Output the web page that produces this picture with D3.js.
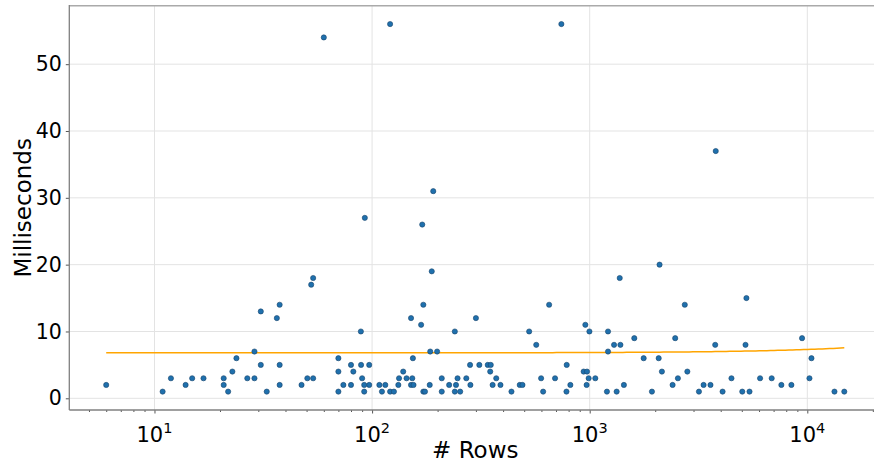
<!DOCTYPE html>
<html>
<head>
<meta charset="utf-8">
<script src="https://cdn.jsdelivr.net/npm/d3@7"></script>
<style>
  html, body { margin: 0; padding: 0; background: #fff; }
  svg { display: block; font-family: "DejaVu Sans", sans-serif; }
</style>
</head>
<body>
<svg id="chart" width="874" height="468"></svg>
<script>
// Query timings: number of rows returned vs. elapsed milliseconds
const rows = [
  6, 10.9, 11.9, 13.9, 14.9, 16.8, 20.8, 20.8, 21.8, 22.8,
  23.8, 26.7, 28.8, 28.8, 30.8, 30.8, 32.8, 36.5, 37.6, 37.6,
  37.6, 47.4, 50.4, 52.5, 53.6, 53.6, 60, 70, 70, 70,
  73.8, 80, 80, 82, 88.8, 89, 90, 92, 92, 92.6,
  97, 97, 108, 111, 115, 121, 126, 121, 132, 133,
  139, 144, 151, 151, 153, 155, 154, 168, 170, 172,
  172, 175, 184, 185, 188, 191, 199, 209, 209, 226,
  240, 240, 243, 247, 254, 271, 282, 283, 300, 311,
  340, 351, 349, 358, 372, 389, 437, 477, 491, 527,
  568, 598, 611, 651, 693, 741, 782, 784, 815, 938,
  955, 968, 972, 989, 997, 1061, 1200, 1214, 1214, 1294,
  1330, 1374, 1384, 1436, 1603, 1770, 1932, 2075, 2094, 2147,
  2404, 2471, 2543, 2735, 2810, 3177, 3337, 3590, 3774, 3795,
  4080, 4482, 5025, 5200, 5250, 5425, 6067, 6860, 7600, 8450,
  9460, 10230, 10450, 13330, 14790
];
const millis = [
  2, 1, 3, 2, 3, 3, 3, 2, 1, 4,
  6, 3, 3, 7, 5, 13, 1, 12, 14, 5,
  2, 2, 3, 17, 18, 3, 54, 6, 4, 1,
  2, 5, 2, 4, 10, 5, 3, 2, 1, 27,
  5, 2, 2, 1, 2, 1, 1, 56, 2, 3,
  4, 3, 12, 2, 3, 2, 6, 11, 26, 14,
  1, 1, 2, 7, 19, 31, 7, 3, 1, 2,
  10, 1, 2, 3, 1, 3, 5, 2, 12, 5,
  5, 5, 4, 2, 3, 2, 1, 2, 2, 10,
  8, 3, 1, 14, 3, 56, 1, 5, 2, 4,
  11, 2, 4, 3, 10, 3, 1, 10, 7, 8,
  1, 18, 8, 2, 9, 6, 1, 6, 20, 4,
  2, 9, 3, 14, 4, 1, 2, 2, 8, 37,
  1, 3, 1, 8, 15, 1, 3, 3, 2, 2,
  9, 3, 6, 1, 1
];

// Linear least-squares fit (ms = intercept + slope * rows)
const trendIntercept = 6.8;
const trendSlope = 0.000051;

const yTicks = [0, 10, 20, 30, 40, 50];
const xMajorExponents = [1, 2, 3, 4];

const points = rows.map((r, i) => ({ r, ms: millis[i] }));

const svg = d3.select("#chart");
const plotLeft = 69.3, plotTop = 5.7, plotBottom = 410, plotRight = 881.2;

// Log x domain padded by 5% of its span in log space, y padded likewise
const lx0 = Math.log10(d3.min(rows)), lx1 = Math.log10(d3.max(rows));
const padX = 0.05 * (lx1 - lx0);
const x = d3.scaleLog()
  .domain([Math.pow(10, lx0 - padX), Math.pow(10, lx1 + padX)])
  .range([plotLeft, plotRight]);

const y0 = d3.min(millis), y1 = d3.max(millis);
const padY = 0.05 * (y1 - y0);
const y = d3.scaleLinear()
  .domain([y0 - padY, y1 + padY])
  .range([plotBottom, plotTop]);

// Grid
const grid = svg.append("g").attr("class", "grid");
grid.selectAll("line.h").data(yTicks).join("line")
  .attr("x1", plotLeft).attr("x2", plotRight)
  .attr("y1", d => y(d)).attr("y2", d => y(d))
  .attr("stroke", "#e3e3e3").attr("stroke-width", 1);
grid.selectAll("line.v").data(xMajorExponents).join("line")
  .attr("x1", d => x(Math.pow(10, d))).attr("x2", d => x(Math.pow(10, d)))
  .attr("y1", plotTop).attr("y2", plotBottom)
  .attr("stroke", "#e3e3e3").attr("stroke-width", 1);

// Minor ticks on the log axis
const [dx0, dx1] = x.domain();
const minorTicks = [];
for (let e = Math.floor(Math.log10(dx0)); e <= Math.ceil(Math.log10(dx1)); e++) {
  for (let m = 2; m <= 9; m++) {
    const v = m * Math.pow(10, e);
    if (v >= dx0 && v <= dx1) minorTicks.push(v);
  }
}

const xMinorAxis = svg.append("g")
  .attr("transform", `translate(0,${plotBottom})`)
  .call(d3.axisBottom(x).tickValues(minorTicks).tickSize(2).tickFormat(""));
xMinorAxis.select(".domain").remove();
xMinorAxis.selectAll("line").attr("stroke", "#555");

const xAxis = svg.append("g")
  .attr("transform", `translate(0,${plotBottom})`)
  .call(d3.axisBottom(x).tickValues(xMajorExponents.map(e => Math.pow(10, e)))
    .tickSize(3.5).tickPadding(3.5).tickFormat(""));
xAxis.select(".domain").remove();
xAxis.selectAll("line").attr("stroke", "#555");

// Mathtext-style tick labels: 10 with superscript exponent
const xLabels = svg.append("g");
xMajorExponents.forEach(e => {
  const t = xLabels.append("text")
    .attr("x", x(Math.pow(10, e)))
    .attr("y", 442)
    .attr("text-anchor", "middle")
    .attr("font-size", 21)
    .attr("fill", "#000");
  t.append("tspan").text("10");
  t.append("tspan").attr("font-size", 14.5).attr("dy", -9).text(String(e));
});

const yAxis = svg.append("g")
  .attr("transform", `translate(${plotLeft},0)`)
  .call(d3.axisLeft(y).tickValues(yTicks).tickSize(3.5).tickPadding(4).tickFormat(d3.format("d")));
yAxis.select(".domain").remove();
yAxis.selectAll("line").attr("stroke", "#555");
yAxis.selectAll("text")
  .attr("font-size", 20.5)
  .attr("fill", "#000")
  .attr("font-family", "DejaVu Sans, sans-serif");

// Spines
svg.append("line").attr("x1", plotLeft).attr("x2", plotRight).attr("y1", plotTop).attr("y2", plotTop)
  .attr("stroke", "#aaa").attr("stroke-width", 1.6);
svg.append("line").attr("x1", plotRight).attr("x2", plotRight).attr("y1", plotTop).attr("y2", plotBottom)
  .attr("stroke", "#aaa").attr("stroke-width", 1.6);
svg.append("line").attr("x1", plotLeft).attr("x2", plotLeft).attr("y1", plotTop - 0.8).attr("y2", plotBottom)
  .attr("stroke", "#808080").attr("stroke-width", 1.3);
svg.append("line").attr("x1", plotLeft).attr("x2", plotRight).attr("y1", plotBottom).attr("y2", plotBottom)
  .attr("stroke", "#808080").attr("stroke-width", 1.3);

// Trend line sampled along the x range of the data
const trendXs = d3.range(0, 201).map(i => Math.pow(10, lx0 + (lx1 - lx0) * i / 200));
svg.append("path")
  .datum(trendXs)
  .attr("fill", "none")
  .attr("stroke", "orange")
  .attr("stroke-width", 1.5)
  .attr("d", d3.line().x(d => x(d)).y(d => y(trendIntercept + trendSlope * d)));

// Scatter points
svg.append("g").selectAll("circle").data(points).join("circle")
  .attr("cx", d => x(d.r))
  .attr("cy", d => y(d.ms))
  .attr("r", 2.6)
  .attr("fill", "#1f70ad")
  .attr("stroke", "#1a456b")
  .attr("stroke-width", 0.6);

// Axis titles
svg.append("text")
  .attr("x", (plotLeft + plotRight) / 2)
  .attr("y", 458)
  .attr("text-anchor", "middle")
  .attr("font-size", 23)
  .attr("fill", "#000")
  .text("# Rows");

svg.append("text")
  .attr("transform", `translate(31,${(plotTop + plotBottom) / 2}) rotate(-90)`)
  .attr("text-anchor", "middle")
  .attr("font-size", 23)
  .attr("fill", "#000")
  .text("Milliseconds");
</script>
</body>
</html>
